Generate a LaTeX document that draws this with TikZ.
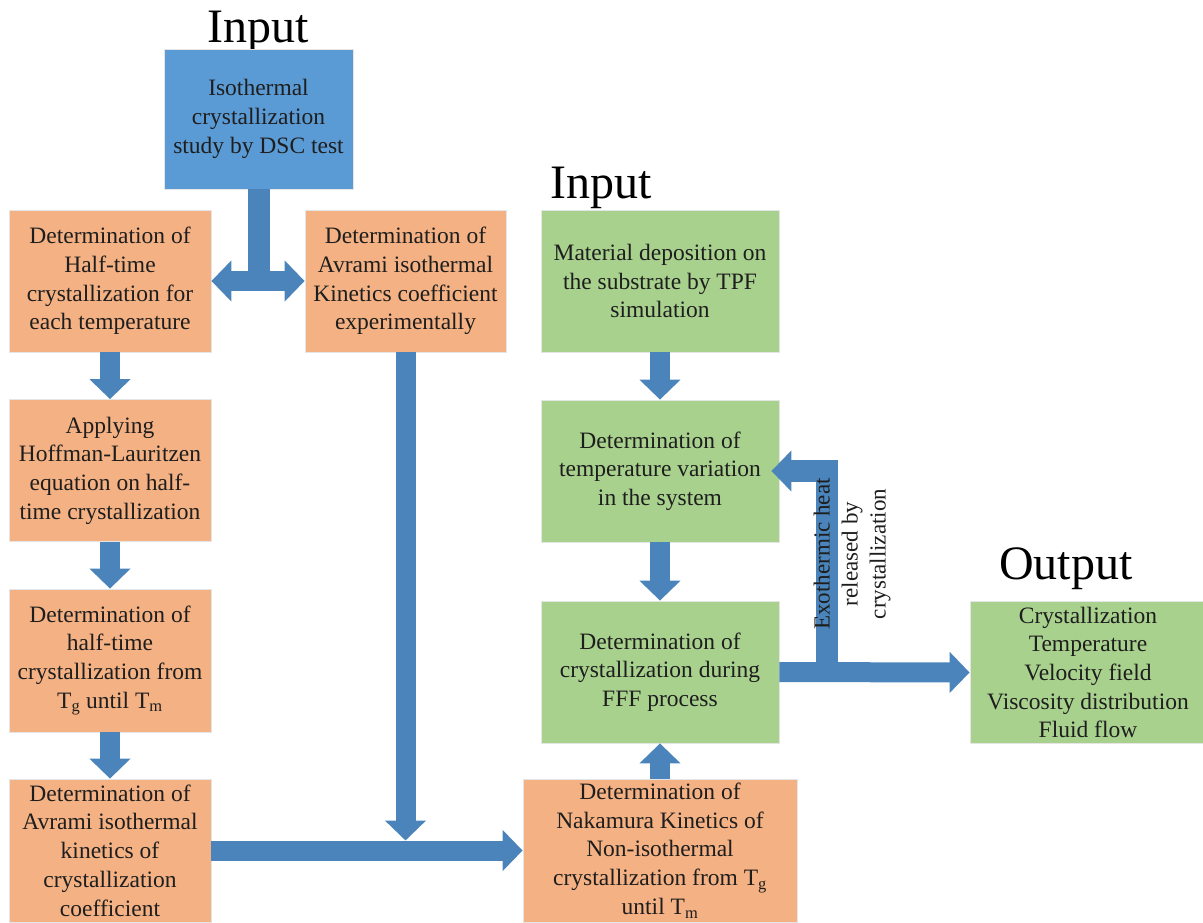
\documentclass[tikz,border=0pt]{standalone}
\usepackage{fontspec}
\setmainfont{Liberation Serif}
\usepackage{xcolor}
\usepackage{tikz}
\usetikzlibrary{arrows.meta, positioning}
\definecolor{dscblue}{HTML}{5B9BD5}
\definecolor{kinorange}{HTML}{F4B183}
\definecolor{simgreen}{HTML}{A9D18E}
\definecolor{flowblue}{HTML}{4A84BA}
\definecolor{ink}{HTML}{1E1E1E}

\begin{document}
\begin{tikzpicture}[x=1pt, y=-1pt, >={Triangle[width=40pt, length=20pt]},
  stage/.style={rectangle, draw=black!10, line width=0.8pt, align=center, inner sep=1pt, minimum height=142pt, text=ink, font=\fontsize{23.5}{28.7}\selectfont},
  kin/.style={stage, fill=kinorange, minimum width=202pt},
  sim/.style={stage, fill=simgreen, minimum width=238pt},
  bar/.style={line width=20pt, color=flowblue},
  flow/.style={bar, ->},
  headline/.style={anchor=base, text=black, font=\fontsize{48}{50}\selectfont}]
\useasboundingbox (0,0) rectangle (1203,922);
% —— experiment side ——
\node[headline] (inleft) at (258,42){Input};
\node[stage, fill=dscblue, minimum width=189pt, minimum height=140pt] (dsc) at (258.5,119){Isothermal\\crystallization\\study by DSC test};
\node[kin] (halft) at (110,281){Determination of\\Half-time\\crystallization for\\each temperature};
\node[kin, minimum width=201pt] (avrexp) at (405.5,281){Determination of\\Avrami isothermal\\Kinetics coefficient\\experimentally};
\node[kin] (hoffman) at (110,470.5){Applying\\Hoffman-Lauritzen\\equation on half-\\time crystallization};
\node[kin, minimum height=143pt] (halftg) at (110,660.5){Determination of\\half-time\\crystallization from\\T\textsubscript{g} until T\textsubscript{m}};
\node[kin, minimum height=143pt] (avrcoef) at (110,850.5){Determination of\\Avrami isothermal\\kinetics of\\crystallization\\coefficient};
\node[kin, minimum width=274pt, minimum height=143pt] (nakamura) at (660,850.5){Determination of\\Nakamura Kinetics of\\Non-isothermal\\crystallization from T\textsubscript{g}\\until T\textsubscript{m}};
% —— simulation side ——
\node[headline] (inright) at (601,198){Input};
\node[sim] (tpf) at (660,281){Material deposition on\\the substrate by TPF\\simulation};
\node[sim] (tempvar) at (660,471){Determination of\\temperature variation\\in the system};
\node[sim] (fffcryst) at (660,672){Determination of\\crystallization during\\FFF process};
\node[headline] (outhead) at (1066,579){Output};
\node[sim, minimum width=236pt] (result) at (1088,672.5){Crystallization\\Temperature\\Velocity field\\Viscosity distribution\\Fluid flow};
% —— arrows, left ——
\coordinate (split) at (dsc.south |- halft.east);
\draw[bar, line width=22pt] (dsc.south) -- (split);
\draw[bar, <->] (halft.east) -- (avrexp.west);
\draw[flow] (halft) -- (hoffman);
\draw[flow] (hoffman) -- (halftg);
\draw[flow] (halftg) -- (avrcoef);
\coordinate (merge) at (avrexp.south |- avrcoef.east);
\draw[flow] (avrexp.south) -- ([yshift=10pt]merge);
\draw[flow] (avrcoef.east) -- (nakamura.west);
% —— arrows, right ——
\draw[flow] (nakamura) -- (fffcryst);
\draw[flow] (tpf) -- (tempvar);
\draw[flow] (tempvar) -- (fffcryst);
\draw[flow] (fffcryst.east) -- (result.west);
\coordinate (heatrise) at ([xshift=47.5pt]fffcryst.east);
\draw[flow, line width=22pt] (heatrise) -- (heatrise |- tempvar.east) -- ([xshift=-8pt]tempvar.east);
\node[rotate=90, align=center, text=ink, font=\fontsize{23}{28}\selectfont] (heatlbl) at (852,554){Exothermic heat\\released by\\crystallization};
\end{tikzpicture}
\end{document}
